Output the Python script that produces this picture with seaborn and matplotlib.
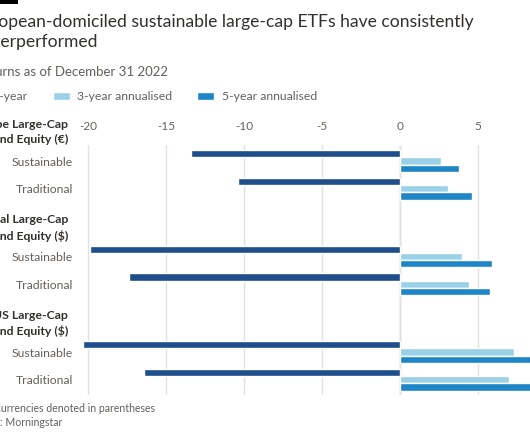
import numpy as np
import pandas as pd
import matplotlib.pyplot as plt
import seaborn as sns
from matplotlib.patches import Rectangle
from matplotlib.transforms import blended_transform_factory

# -----------------------
# DATA (returns, % as of Dec 31 2022)
# -----------------------
groups = [
    "Europe Large-Cap\nBlend Equity (€)",
    "Global Large-Cap\nBlend Equity ($)",
    "US Large-Cap\nBlend Equity ($)",
]
fund_types = ["Sustainable", "Traditional"]
periods = ["1-year", "3-year annualised", "5-year annualised"]

one_year = [-13.4, -10.4, -19.9, -17.4, -20.3, -16.4]
three_year = [2.6, 3.1, 4.0, 4.4, 7.3, 7.0]
five_year = [3.8, 4.6, 5.9, 5.8, 8.6, 8.5]

xticks = [-20, -15, -10, -5, 0, 5]

colors = ["#1f4e8c", "#9ad1e7", "#1e86c7"]
text_dark = "#33302e"
text_grey = "#66605c"

# -----------------------
# LAYOUT HELPERS
# -----------------------
W, H = 530, 442
group_stride = 3.45  # rows between group starts (includes header space)


def fx(px):
    return px / W


def fy(py):
    return 1 - py / H


rows = []
for g, group in enumerate(groups):
    for i, ft in enumerate(fund_types):
        k = g * 2 + i
        pos = g * group_stride + i
        for period, vals in zip(periods, [one_year, three_year, five_year]):
            rows.append({"group": group, "fund": ft, "pos": pos,
                         "period": period, "value": vals[k]})
df = pd.DataFrame(rows)

sns.set_theme(style="white")
plt.rcParams["font.family"] = ["Lato", "DejaVu Sans"]

fig = plt.figure(figsize=(W / 100, H / 100), dpi=100)
fig.patch.set_facecolor("white")

ax_left, ax_top, ax_bottom = 80, 145, 395
ax = fig.add_axes([fx(ax_left), fy(ax_bottom), 1 - fx(ax_left),
                   (ax_bottom - ax_top) / H])

sns.barplot(
    data=df, x="value", y="pos", hue="period", hue_order=periods,
    orient="y", native_scale=True, palette=colors, saturation=1,
    width=0.78, errorbar=None, ax=ax, legend=True,
)

y_lo = -0.58
y_hi = 2 * group_stride + 1 + 0.55
ax.set_ylim(y_hi, y_lo)
ax.set_xlim((ax_left - 400) / 15.6, (W - 400) / 15.6)

positions = sorted(df["pos"].unique())
ax.set_yticks(positions)
ax.set_yticklabels(fund_types * len(groups))
ax.set_xticks(xticks)
ax.set_xticklabels([str(t) for t in xticks])
ax.xaxis.tick_top()
ax.tick_params(axis="x", length=0, pad=9, labelsize=8.5, labelcolor=text_grey)
ax.tick_params(axis="y", length=0, pad=5, labelsize=8.8, labelcolor=text_grey)
ax.set_xlabel("")
ax.set_ylabel("")
for s in ax.spines.values():
    s.set_visible(False)
ax.set_axisbelow(True)
ax.grid(axis="x", color="#e3e0dd", linewidth=1)
ax.axvline(0, color="#cfcac6", linewidth=1, zorder=0.5)

# group headers (the chart is cropped on the left, as in the source image)
trans = blended_transform_factory(ax.transAxes, ax.transData)
for g, group in enumerate(groups):
    ax.text(-0.026, g * group_stride - 1.04, group, transform=trans,
            ha="right", va="center", multialignment="right",
            fontsize=8.8, fontweight="bold", color=text_dark,
            linespacing=1.45, clip_on=False)

# legend
handles, labels = ax.get_legend_handles_labels()
ax.get_legend().remove()
fig.legend(handles, labels, loc="center left", ncol=3, frameon=False,
           bbox_to_anchor=(fx(-32), fy(97)), fontsize=8.8,
           handlelength=1.4, handleheight=0.55, handletextpad=0.6,
           columnspacing=2.05, labelcolor=text_grey, borderaxespad=0,
           borderpad=0)

# titles and notes
fig.text(fx(-28), fy(22), "European-domiciled sustainable large-cap ETFs have consistently",
         ha="left", va="center", fontsize=12.6, color=text_dark)
fig.text(fx(-28), fy(42), "underperformed",
         ha="left", va="center", fontsize=12.6, color=text_dark)
fig.text(fx(-25), fy(72), "Returns as of December 31 2022",
         ha="left", va="center", fontsize=9.5, color=text_grey)
fig.text(fx(-35), fy(408), "Note: Currencies denoted in parentheses",
         ha="left", va="center", fontsize=7.6, color=text_grey)
fig.text(fx(-32), fy(422), "Source: Morningstar",
         ha="left", va="center", fontsize=7.6, color=text_grey)

fig.patches.append(Rectangle((0, fy(4)), fx(18), 1 - fy(4), transform=fig.transFigure,
                             facecolor="black", edgecolor="none"))

fig.savefig("out.png", dpi=100)
